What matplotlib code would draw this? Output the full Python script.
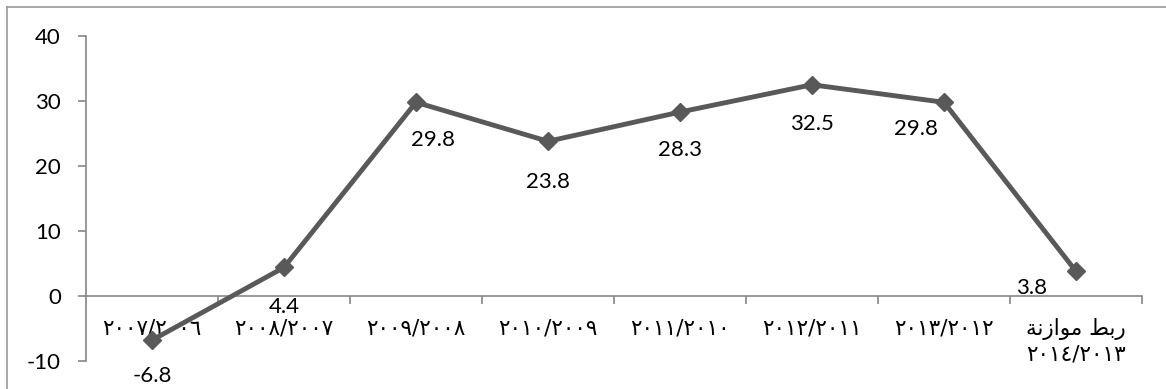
import matplotlib
matplotlib.use("Agg")
import matplotlib.pyplot as plt
from matplotlib.lines import Line2D

# Fiscal-year categories (Arabic-Indic digits); last one is the budget estimate.
# Arabic words are written in visual order with presentation forms so they
# render joined and right-to-left.
categories = [
    "٢٠٠٧/٢٠٠٦",
    "٢٠٠٨/٢٠٠٧",
    "٢٠٠٩/٢٠٠٨",
    "٢٠١٠/٢٠٠٩",
    "٢٠١١/٢٠١٠",
    "٢٠١٢/٢٠١١",
    "٢٠١٣/٢٠١٢",
    "ﺔﻧﺯﺍﻮﻣ ﻂﺑﺭ\n٢٠١٤/٢٠١٣",
]
values = [-6.8, 4.4, 29.8, 23.8, 28.3, 32.5, 29.8, 3.8]
y_ticks = [-10, 0, 10, 20, 30, 40]

# where each value label sits relative to its point (points)
label_offsets = [(0, -26), (0, -28.5), (12, -27.5), (0, -29),
                 (0, -27.5), (0, -28), (-20, -19.5), (-32, -12)]

W, H = 1166, 389
fig = plt.figure(figsize=(W / 100, H / 100), dpi=100)
ax = fig.add_axes([86 / W, 1 - 361 / H, (1142 - 86) / W, (361 - 36) / H])

gray_axis = "#868686"
line_col = "#595959"
num_font = "Lato"
num_size = 16

x = list(range(1, len(values) + 1))
ax.plot(x, values, color=line_col, lw=3.5, marker="D", ms=9.5,
        markerfacecolor=line_col, markeredgecolor=line_col, zorder=3,
        clip_on=False)

# value labels near each point
for xi, v, off in zip(x, values, label_offsets):
    ax.annotate(f"{v:.1f}", (xi, v), xytext=off, textcoords="offset points",
                ha="center", va="center", fontsize=num_size, family=num_font,
                color="black", zorder=4, annotation_clip=False)

ax.set_xlim(0.5, len(values) + 0.5)
ax.set_ylim(-10, 40)

# spines: y axis on the left, x axis at zero
for s in ("top", "right"):
    ax.spines[s].set_visible(False)
ax.spines["left"].set_color(gray_axis)
ax.spines["left"].set_linewidth(1.2)
ax.spines["bottom"].set_position(("data", 0))
ax.spines["bottom"].set_color(gray_axis)
ax.spines["bottom"].set_linewidth(1.2)

ax.set_yticks(y_ticks)
ax.set_yticklabels([str(t) for t in y_ticks], fontsize=num_size, family=num_font)
ax.tick_params(axis="y", direction="out", length=6, width=1.2,
               color=gray_axis, pad=12)

# category boundaries carry the tick marks, centers carry the labels
bounds = [i + 0.5 for i in range(1, len(values) + 1)]
ax.set_xticks(bounds)
ax.set_xticklabels([])
ax.tick_params(axis="x", which="major", direction="out", length=6,
               width=1.2, color=gray_axis)
ax.set_xticks(x, minor=True)
ax.set_xticklabels(categories, minor=True, fontsize=15.5,
                   family=["DejaVu Sans"], va="top", linespacing=1.25)
ax.tick_params(axis="x", which="minor", length=0, pad=16)

# outer chart border
fig.add_artist(Line2D([7 / W, 7 / W], [0, 1 - 7 / H], color="#9a9a9a", lw=1.2))
fig.add_artist(Line2D([7 / W, 1], [1 - 7 / H, 1 - 7 / H], color="#9a9a9a", lw=1.2))

fig.savefig("out.png", dpi=100)
